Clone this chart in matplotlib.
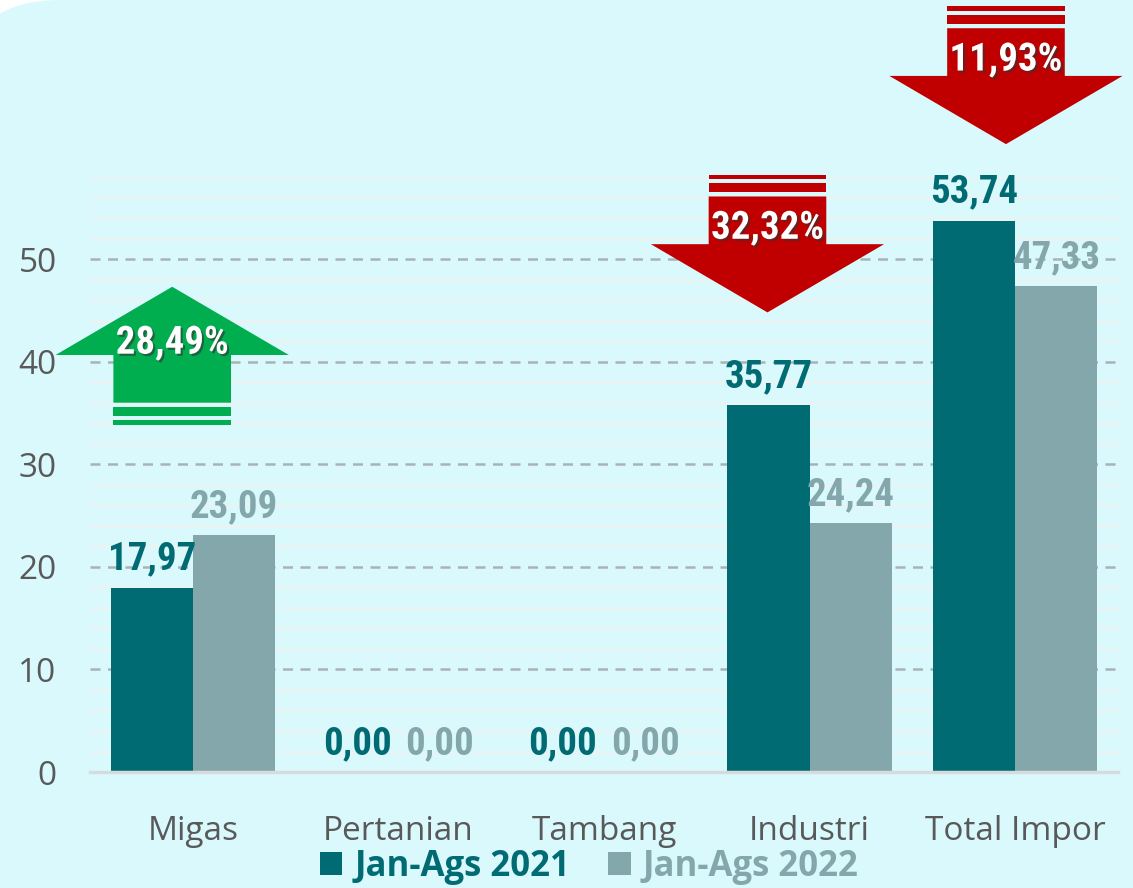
import numpy as np
import matplotlib.pyplot as plt
import matplotlib.patheffects as pe
from matplotlib import font_manager
from matplotlib.patches import Polygon, Rectangle, FancyBboxPatch
from matplotlib.transforms import IdentityTransform

# data
categories = ['Migas', 'Pertanian', 'Tambang', 'Industri', 'Total Impor']
jan_ags_2021 = [17.97, 0.00, 0.00, 35.77, 53.74]
jan_ags_2022 = [23.09, 0.00, 0.00, 24.24, 47.33]
series_names = ['Jan-Ags 2021', 'Jan-Ags 2022']

# change arrows: label, category position, tip value, direction
arrow_labels = ['28,49%', '32,32%', '11,93%']
arrow_x = [-0.10, 2.795, 3.955]
arrow_tip = [47.3, 44.8, 61.2]
arrow_up = [True, False, False]

c21 = '#006B73'
c22 = '#84A7AB'
bg = '#D9F9FD'

# pick a narrow font if one is installed
names = {f.name for f in font_manager.fontManager.ttflist}
narrow, stretch, vsize, asize = 'DejaVu Sans', 'condensed', 21, 22
for cand in ['Liberation Sans Narrow', 'Roboto Condensed', 'Open Sans Condensed', 'DejaVu Sans Condensed']:
    if cand in names:
        narrow, stretch, vsize, asize = cand, 'normal', 28, 28
        break

fig = plt.figure(figsize=(11.33, 8.88), dpi=100)
fig.patch.set_facecolor('white')
fig.patches.append(FancyBboxPatch((-40, -100), 1300, 988, boxstyle='round,pad=0,rounding_size=100',
                                  transform=IdentityTransform(), facecolor=bg, edgecolor='none',
                                  zorder=-10, figure=fig))

ax = fig.add_axes([0.0794, 0.1306, 0.9074, 0.6701])
ax.set_facecolor('none')

x = np.arange(len(categories))
w = 0.4
b1 = ax.bar(x - w / 2, jan_ags_2021, w, color=c21, label=series_names[0], zorder=3)
b2 = ax.bar(x + w / 2, jan_ags_2022, w, color=c22, label=series_names[1], zorder=3)

for bars, vals, col in [(b1, jan_ags_2021, c21), (b2, jan_ags_2022, c22)]:
    for r, v in zip(bars, vals):
        ax.annotate(f'{v:.2f}'.replace('.', ','), (r.get_x() + r.get_width() / 2, v),
                    xytext=(0, 13), textcoords='offset points', ha='center', va='baseline',
                    fontsize=vsize, fontweight='bold', family=narrow, fontstretch=stretch,
                    color=col, zorder=5)

ax.set_xlim(-0.5, 4.5)
ax.set_ylim(0, 58)
ax.set_yticks(range(0, 51, 10))
ax.set_yticks(range(0, 59, 2), minor=True)
ax.set_xticks(x)
ax.set_xticklabels(categories)
ax.tick_params(axis='both', which='both', length=0, labelsize=24, labelcolor='#595959')
ax.tick_params(axis='x', pad=31)
ax.tick_params(axis='y', pad=24)
for t in ax.get_xticklabels() + ax.get_yticklabels():
    t.set_family('Open Sans')

ax.grid(axis='y', which='minor', color='#EAF3F4', lw=2, zorder=0)
ax.grid(axis='y', which='major', color='#A9B3B6', lw=1.8, ls=(0, (4, 3)), zorder=1)
for s in ['top', 'right', 'left']:
    ax.spines[s].set_visible(False)
ax.spines['bottom'].set_color('#D6DCDD')
ax.spines['bottom'].set_linewidth(2.5)
ax.spines['bottom'].set_zorder(4)

# arrows
head_hw, shaft_hw = 0.567, 0.286
head_len, shaft_len = 6.65, 4.65
for lab, cx, tip, up, in zip(arrow_labels, arrow_x, arrow_tip, arrow_up):
    s = -1 if up else 1
    col = '#00AD4F' if up else '#C00000'
    hb = tip + s * head_len
    se = hb + s * shaft_len
    pts = [(cx, tip), (cx - head_hw, hb), (cx - shaft_hw, hb), (cx - shaft_hw, se),
           (cx + shaft_hw, se), (cx + shaft_hw, hb), (cx + head_hw, hb)]
    ax.add_patch(Polygon(pts, closed=True, facecolor=col, edgecolor='none', clip_on=False, zorder=6))
    y0 = se + s * 0.45
    ax.add_patch(Rectangle((cx - shaft_hw, min(y0, y0 + s * 0.82)), 2 * shaft_hw, 0.82,
                           facecolor=col, edgecolor='none', clip_on=False, zorder=6))
    y1 = y0 + s * (0.82 + 0.45)
    ax.add_patch(Rectangle((cx - shaft_hw, min(y1, y1 + s * 0.42)), 2 * shaft_hw, 0.42,
                           facecolor=col, edgecolor='none', clip_on=False, zorder=6))
    ty = tip - 5.5 if up else tip + 8.2
    ax.text(cx, ty, lab, ha='center', va='center', fontsize=asize, fontweight='bold', family=narrow,
            fontstretch=stretch, color='white', zorder=7, clip_on=False,
            path_effects=[pe.withSimplePatchShadow(offset=(1.5, -1.5), shadow_rgbFace='#333333', alpha=0.6)])

leg = fig.legend(loc='center', bbox_to_anchor=(0.52, 0.024), ncol=2, frameon=False,
                 handlelength=0.65, handleheight=0.65, handletextpad=0.35, columnspacing=1.1,
                 prop={'family': 'Open Sans', 'weight': 'bold', 'size': 25})
for t, col in zip(leg.get_texts(), [c21, c22]):
    t.set_color(col)

fig.savefig('out.png', dpi=100)
